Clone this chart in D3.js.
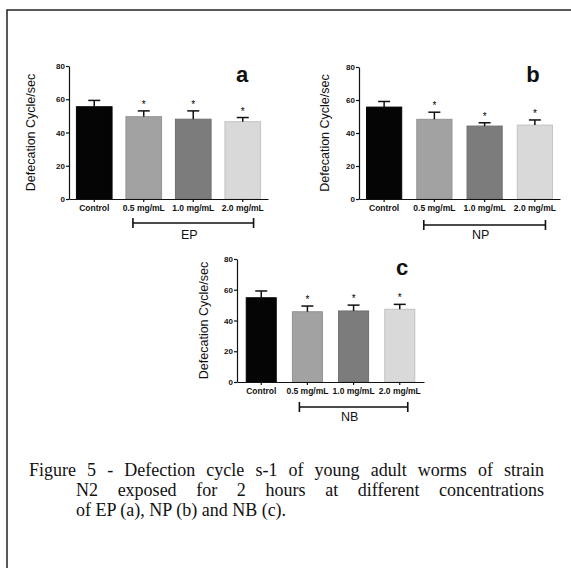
<!DOCTYPE html>
<html>
<head>
<meta charset="utf-8">
<script src="https://cdn.jsdelivr.net/npm/d3@7"></script>
<style>
  body { margin: 0; background: #fff; }
  svg { display: block; }
  .axis path, .axis line { stroke: #111; stroke-width: 1.2; }
  .axis text { font-family: "Liberation Sans", Arial, sans-serif; font-weight: bold; fill: #111; }
</style>
</head>
<body>
<div id="fig"></div>
<script>
var categories = ["Control", "0.5 mg/mL", "1.0 mg/mL", "2.0 mg/mL"];
var yTicks = [0, 20, 40, 60, 80];
var barColors = ["#050505", "#a2a2a2", "#7c7c7c", "#d9d9d9"];
var starred = [false, true, true, true];

var epMean = [55.5, 49.5, 48.0, 46.5];
var epErr = [3.8, 3.5, 5.0, 2.5];
var npMean = [55.7, 48.3, 44.2, 44.8];
var npErr = [3.4, 4.3, 2.0, 3.1];
var nbMean = [54.8, 45.7, 46.2, 47.3];
var nbErr = [4.4, 3.7, 3.8, 3.2];

var captionLines = [
  "Figure 5 - Defection cycle s-1 of young adult worms of strain",
  "N2 exposed for 2 hours at different concentrations",
  "of EP (a), NP (b) and NB (c)."
];

var W = 571, H = 568;
var font = '"Liberation Sans", Arial, sans-serif';

var svg = d3.select("#fig").append("svg")
  .attr("width", W)
  .attr("height", H);

// frame (only left + top edges are visible)
svg.append("path")
  .attr("d", "M7," + H + "V10H" + W)
  .attr("fill", "none")
  .attr("stroke", "#222")
  .attr("stroke-width", 1.5);

var panels = [
  {mean: epMean, err: epErr, group: "EP", letter: "a",
   xr: [69, 268], yr: [199, 66], pin: 0.28, pout: 0.15,
   ylabX: 31, letterX: 242, letterY: 82, brY: 223, grpY: 239, labSize: 8.5},
  {mean: npMean, err: npErr, group: "NP", letter: "b",
   xr: [359, 560], yr: [199, 67], pin: 0.3, pout: 0.15,
   ylabX: 325, letterX: 533, letterY: 82, brY: 225, grpY: 239, labSize: 8.5},
  {mean: nbMean, err: nbErr, group: "NB", letter: "c",
   xr: [237, 424], yr: [382, 259], pin: 0.35, pout: 0.2,
   ylabX: 204, letterX: 402, letterY: 275, brY: 407, grpY: 421, labSize: 8.5}
];

panels.forEach(function(p) {
  var x = d3.scaleBand()
    .domain(categories)
    .range(p.xr)
    .paddingInner(p.pin)
    .paddingOuter(p.pout);

  var y = d3.scaleLinear()
    .domain([0, 80])
    .range(p.yr);

  var g = svg.append("g");

  // bars
  g.selectAll(".bar")
    .data(categories)
    .enter().append("rect")
    .attr("class", "bar")
    .attr("x", function(d) { return x(d); })
    .attr("width", x.bandwidth())
    .attr("y", function(d, i) { return y(p.mean[i]); })
    .attr("height", function(d, i) { return y(0) - y(p.mean[i]); })
    .attr("fill", function(d, i) { return barColors[i]; })
    .attr("stroke", function(d, i) { return d3.color(barColors[i]).darker(0.3); })
    .attr("stroke-width", 1);

  // error bars (upper only)
  var eb = g.selectAll(".err")
    .data(categories)
    .enter().append("g")
    .attr("class", "err");

  eb.append("line")
    .attr("x1", function(d) { return x(d) + x.bandwidth() / 2; })
    .attr("x2", function(d) { return x(d) + x.bandwidth() / 2; })
    .attr("y1", function(d, i) { return y(p.mean[i]); })
    .attr("y2", function(d, i) { return y(p.mean[i] + p.err[i]); })
    .attr("stroke", "#111")
    .attr("stroke-width", 1.5);

  eb.append("line")
    .attr("x1", function(d) { return x(d) + x.bandwidth() / 2 - 6; })
    .attr("x2", function(d) { return x(d) + x.bandwidth() / 2 + 6; })
    .attr("y1", function(d, i) { return y(p.mean[i] + p.err[i]); })
    .attr("y2", function(d, i) { return y(p.mean[i] + p.err[i]); })
    .attr("stroke", "#111")
    .attr("stroke-width", 1.5);

  // significance stars
  g.selectAll(".star")
    .data(categories.filter(function(d, i) { return starred[i]; }))
    .enter().append("text")
    .attr("class", "star")
    .attr("x", function(d) { return x(d) + x.bandwidth() / 2; })
    .attr("y", function(d) {
      var i = categories.indexOf(d);
      return y(p.mean[i] + p.err[i]) - 3;
    })
    .attr("text-anchor", "middle")
    .style("font-family", font)
    .style("font-size", "10px")
    .text("*");

  // axes
  var yAxis = d3.axisLeft(y).tickValues(yTicks).tickSize(3).tickSizeOuter(0).tickPadding(1);
  var xAxis = d3.axisBottom(x).tickSize(3).tickSizeOuter(0).tickPadding(3);

  g.append("g")
    .attr("class", "axis")
    .attr("transform", "translate(" + p.xr[0] + ",0)")
    .call(yAxis)
    .selectAll("text").style("font-size", "8px");

  g.append("g")
    .attr("class", "axis")
    .attr("transform", "translate(0," + p.yr[0] + ")")
    .call(xAxis)
    .selectAll("text").style("font-size", p.labSize + "px");

  // y label
  g.append("text")
    .attr("transform", "translate(" + p.ylabX + "," + ((p.yr[0] + p.yr[1]) / 2) + ") rotate(-90)")
    .attr("text-anchor", "middle")
    .attr("dy", "0.35em")
    .style("font-family", font)
    .style("font-size", "12.5px")
    .style("fill", "#111")
    .text("Defecation Cycle/sec");

  // panel letter
  g.append("text")
    .attr("x", p.letterX)
    .attr("y", p.letterY)
    .attr("text-anchor", "middle")
    .style("font-family", font)
    .style("font-weight", "bold")
    .style("font-size", "22px")
    .style("fill", "#111")
    .text(p.letter);

  // group bracket over the three treatments
  var bx1 = x(categories[1]) + 7;
  var bx2 = x(categories[3]) + x.bandwidth() - 7;
  g.append("path")
    .attr("d", "M" + bx1 + "," + (p.brY - 5) + "V" + (p.brY + 5) +
               "M" + bx1 + "," + p.brY + "H" + bx2 +
               "M" + bx2 + "," + (p.brY - 5) + "V" + (p.brY + 5))
    .attr("fill", "none")
    .attr("stroke", "#111")
    .attr("stroke-width", 1.6);

  g.append("text")
    .attr("x", (bx1 + bx2) / 2 - 4)
    .attr("y", p.grpY)
    .attr("text-anchor", "middle")
    .style("font-family", font)
    .style("font-size", "12.5px")
    .style("fill", "#111")
    .text(p.group);
});

// caption with hanging indent, first two lines justified
var capX = [29, 76, 76];
var capY = [476, 496, 516];
var capRight = 544;
captionLines.forEach(function(line, i) {
  var t = svg.append("text")
    .attr("x", capX[i])
    .attr("y", capY[i])
    .style("font-family", '"Liberation Serif", "Times New Roman", serif')
    .style("font-size", "18px")
    .style("fill", "#111")
    .text(line);
  if (i < 2) {
    var w = t.node().getComputedTextLength();
    var spaces = line.split(" ").length - 1;
    t.style("word-spacing", Math.max(0, (capRight - capX[i] - w) / spaces) + "px");
  }
});
</script>
</body>
</html>
